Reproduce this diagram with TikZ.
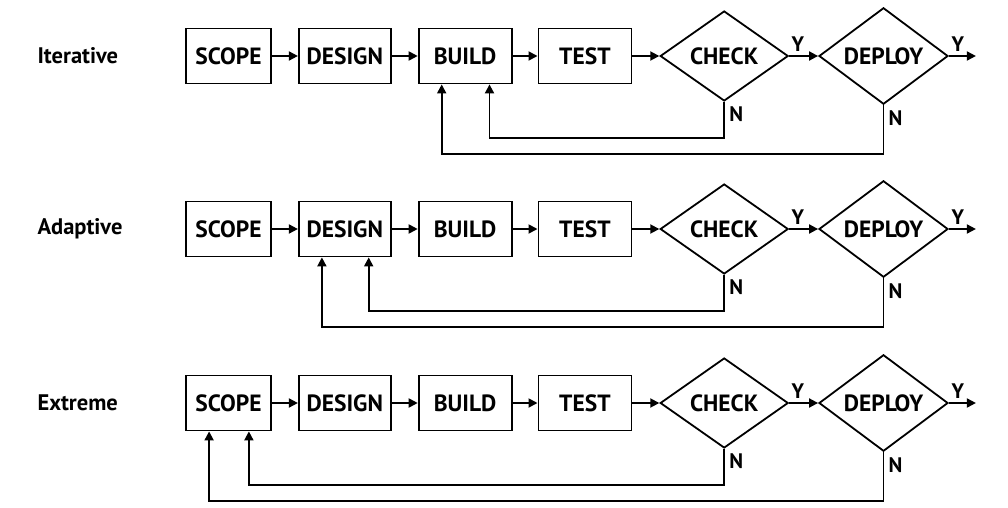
\documentclass[tikz,border=0pt]{standalone}
\usepackage{fontspec}
\setmainfont{PT Sans}
\usetikzlibrary{arrows.meta,positioning,shapes.geometric,calc}

\tikzset{
  stage/.style={draw, line width=1.8pt, minimum height=55pt, inner sep=0pt,
    font=\bfseries\fontsize{23.5}{23.5}\selectfont},
  decide/.style={diamond, draw, line width=1.8pt, minimum width=128pt,
    minimum height=90pt, inner sep=0pt, font=\bfseries\fontsize{23.5}{23.5}\selectfont},
  flow/.style={-{Triangle[length=9pt,width=9pt]}, line width=1.8pt},
  yn/.style={font=\bfseries\fontsize{21}{21}\selectfont, inner sep=1pt},
  rowlabel/.style={anchor=west, font=\bfseries\fontsize{22.5}{22.5}\selectfont}
}

\begin{document}
\begin{tikzpicture}[x=1pt,y=-1pt]
  \useasboundingbox (0,0) rectangle (1008,508);
  % one row per process model
  \foreach \r/\name/\y/\tgt in {1/Iterative/56/build, 2/Adaptive/229/design, 3/Extreme/403/scope} {
    \node[rowlabel] (lbl\r) at (34,\y) {\name};
    % stages
    \node[stage, minimum width=85pt] (scope\r) at (228.5,\y) {SCOPE};
    \node[stage, minimum width=92pt, right=26pt of scope\r] (design\r) {DESIGN};
    \node[stage, minimum width=93pt, right=26pt of design\r] (build\r) {BUILD};
    \node[stage, minimum width=93pt, right=25pt of build\r] (test\r) {TEST};
    \node[decide, right=27pt of test\r] (check\r) {CHECK};
    \node[decide, minimum width=129pt, right=29pt of check\r] (deploy\r) {DEPLOY};
    \coordinate (out\r) at ($(deploy\r.east)+(27,0)$);
    % forward flow
    \draw[flow] (scope\r) -- (design\r);
    \draw[flow] (design\r) -- (build\r);
    \draw[flow] (build\r) -- (test\r);
    \draw[flow] (test\r) -- (check\r);
    \draw[flow] (check\r) -- (deploy\r) node[yn, pos=0.3, above=3pt] (ychk\r) {Y};
    \draw[flow] (deploy\r) -- (out\r) node[yn, pos=0.33, above=3pt] (ydep\r) {Y};
    % loops back
    \draw[flow] (check\r.south) -- ++(0,36) -| ($(\tgt\r.south east)+(-23,0)$);
    \draw[flow] (deploy\r.south) -- ++(0,49) -| ($(\tgt\r.south west)+(24,0)$);
    \node[yn, anchor=north west] (nchk\r) at ($(check\r.south)+(4,4)$) {N};
    \node[yn, anchor=north west] (ndep\r) at ($(deploy\r.south)+(4,4)$) {N};
  }
\end{tikzpicture}
\end{document}
